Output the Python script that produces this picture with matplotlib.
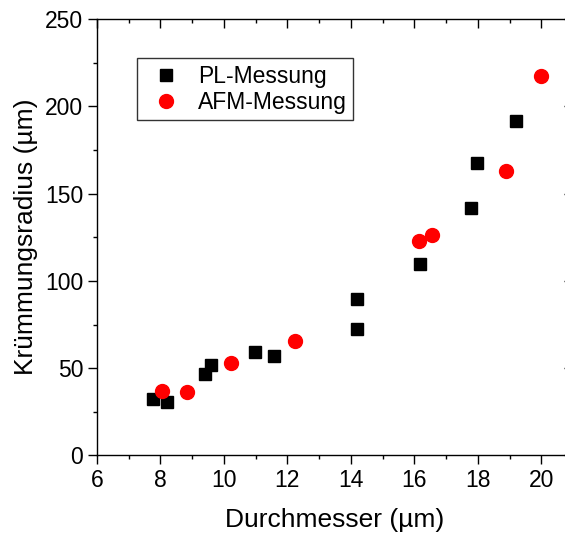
import numpy as np
import matplotlib.pyplot as plt
from matplotlib.ticker import MultipleLocator

# PL-Messung (schwarze Quadrate)
pl_durchmesser = [7.77, 8.19, 9.39, 9.60, 10.99, 11.59, 14.19, 14.19, 16.19, 17.79, 17.98, 19.19]
pl_radius = [32.5, 30.9, 46.4, 51.9, 59.5, 56.7, 89.5, 72.5, 109.6, 141.6, 167.7, 191.8]

# AFM-Messung (rote Kreise)
afm_durchmesser = [8.04, 8.84, 10.23, 12.23, 16.14, 16.55, 18.90, 19.98]
afm_radius = [37.2, 36.1, 52.9, 65.7, 122.9, 126.2, 162.8, 217.2]

plt.rcParams['font.family'] = ['Liberation Sans', 'DejaVu Sans']

fig = plt.figure(figsize=(5.65, 5.36), dpi=100)
ax = fig.add_axes([0.1717, 0.1502, 0.8425, 0.8144])

ax.plot(pl_durchmesser, pl_radius, 's', color='black', markersize=8.6,
        linestyle='none', label='PL-Messung')
ax.plot(afm_durchmesser, afm_radius, 'o', color='red', markersize=10,
        linestyle='none', label='AFM-Messung')

ax.set_xlim(6, 21)
ax.set_ylim(0, 250)
ax.xaxis.set_major_locator(MultipleLocator(2))
ax.xaxis.set_minor_locator(MultipleLocator(1))
ax.yaxis.set_major_locator(MultipleLocator(50))
ax.yaxis.set_minor_locator(MultipleLocator(25))

for s in ax.spines.values():
    s.set_linewidth(1.0)

ax.tick_params(axis='both', which='major', length=6.5, width=1.0, labelsize=16.5,
               direction='out', pad=3.5)
ax.tick_params(axis='both', which='minor', length=3.2, width=1.0, direction='out')
ax.tick_params(axis='x', which='both', top=True)
ax.tick_params(axis='y', which='both', right=True)
# Spiegel-Ticks oben/rechts nach innen
for t in ax.xaxis.get_major_ticks() + ax.xaxis.get_minor_ticks():
    t.tick2line.set_marker(3)
for t in ax.yaxis.get_major_ticks() + ax.yaxis.get_minor_ticks():
    t.tick2line.set_marker(0)

ax.set_xlabel('Durchmesser (µm)', fontsize=19, labelpad=11)
ax.set_ylabel('Krümmungsradius (µm)', fontsize=19, labelpad=5)

leg = ax.legend(loc='upper left', bbox_to_anchor=(0.084, 0.9107), borderaxespad=0,
                fontsize=16.5, frameon=True, fancybox=False, edgecolor='black',
                handletextpad=0.45, borderpad=0.3, labelspacing=0.12,
                handlelength=1.9)
leg.get_frame().set_linewidth(1.0)

fig.savefig('out.png', dpi=100)
